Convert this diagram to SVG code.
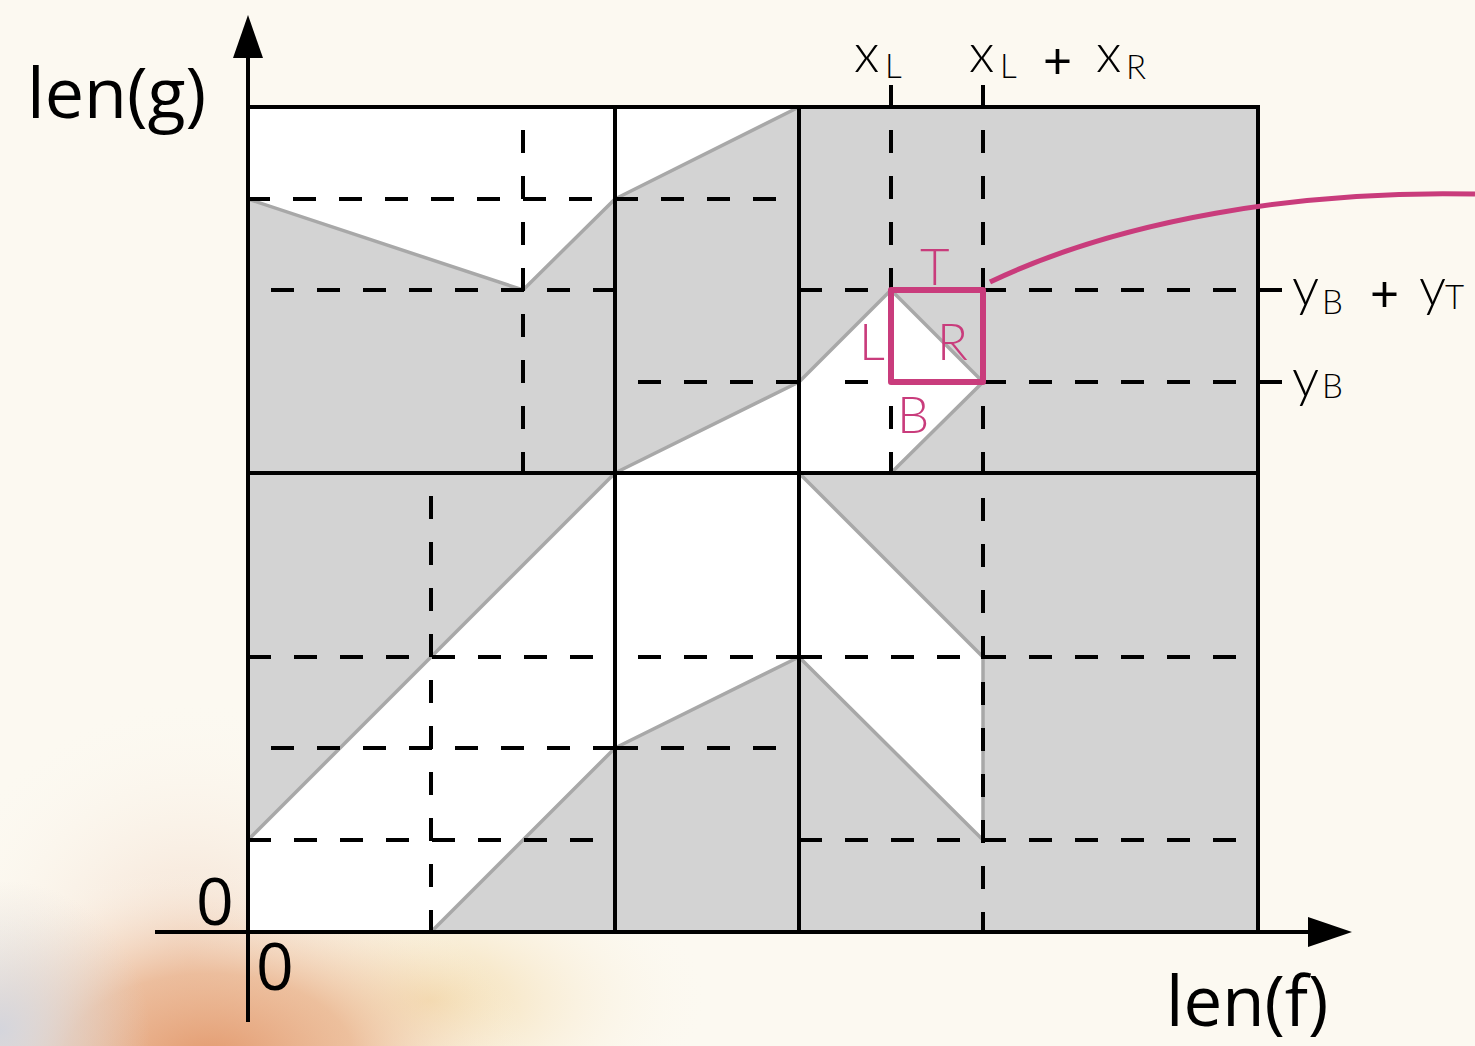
<svg xmlns="http://www.w3.org/2000/svg" width="1475" height="1046" viewBox="0 0 1475 1046">
  <defs>
    <radialGradient id="gOrange" cx="210" cy="1060" r="320" gradientUnits="userSpaceOnUse" gradientTransform="translate(210 1060) scale(1 0.6) translate(-210 -1060)">
      <stop offset="0" stop-color="#e39a6e" stop-opacity="1"/>
      <stop offset="0.45" stop-color="#e9b18b" stop-opacity="0.75"/>
      <stop offset="1" stop-color="#fcf9f1" stop-opacity="0"/>
    </radialGradient>
    <radialGradient id="gYellow" cx="430" cy="1000" r="280" gradientUnits="userSpaceOnUse" gradientTransform="translate(430 1000) scale(1 0.55) translate(-430 -1000)">
      <stop offset="0" stop-color="#f2d6a0" stop-opacity="0.9"/>
      <stop offset="1" stop-color="#fcf9f1" stop-opacity="0"/>
    </radialGradient>
    <radialGradient id="gGray" cx="0" cy="1030" r="150" gradientUnits="userSpaceOnUse">
      <stop offset="0" stop-color="#d4d5dc" stop-opacity="1"/>
      <stop offset="1" stop-color="#e0d8d4" stop-opacity="0"/>
    </radialGradient>
    <radialGradient id="gPeach" cx="190" cy="960" r="260" gradientUnits="userSpaceOnUse">
      <stop offset="0" stop-color="#efcdb7" stop-opacity="0.7"/>
      <stop offset="1" stop-color="#fcf9f1" stop-opacity="0"/>
    </radialGradient>
  </defs>
  <style>
    .solid { stroke: #000; stroke-width: 4; fill: none; }
    .dash { stroke: #000; stroke-width: 4; fill: none; stroke-dasharray: 23 23; }
    .bound { stroke: #a8a8a8; stroke-width: 3.5; fill: none; stroke-linejoin: round; }
    .axislabel { font-family: "Open Sans", "Noto Sans", sans-serif; font-size: 70px; fill: #000; }
    .zero { font-family: "Open Sans", "Noto Sans", sans-serif; font-size: 66px; fill: #000; }
    .var { font-family: Lato, "Noto Sans", sans-serif; font-weight: 300; font-size: 54px; fill: #000; }
    .sub { font-family: Lato, "Noto Sans", sans-serif; font-weight: 300; font-size: 33px; fill: #000; }
    .plus { font-family: Lato, "Noto Sans", sans-serif; font-weight: 400; font-size: 50px; fill: #000; }
    .pink { font-family: Lato, "Noto Sans", sans-serif; font-weight: 300; font-size: 51px; fill: #c93c7c; }
  </style>

  <g id="background">
    <rect x="0" y="0" width="1475" height="1046" fill="#fcf9f1"/>
    <rect x="0" y="680" width="900" height="366" fill="url(#gPeach)"/>
    <rect x="0" y="680" width="900" height="366" fill="url(#gYellow)"/>
    <rect x="0" y="680" width="900" height="366" fill="url(#gOrange)"/>
    <rect x="0" y="860" width="220" height="186" fill="url(#gGray)"/>
  </g>

  <g id="regions">
    <rect x="248" y="107" width="1010" height="825" fill="#d3d3d3"/>
    <polygon fill="#ffffff" points="248,107 799,107 615,199 523,290 248,199"/>
    <polygon fill="#ffffff" points="248,932 248,840 615,473 799,382 891,290 983,382 891,473 799,473 983,657 983,840 799,657 615,748 431,932"/>
  </g>

  <g id="boundaries">
    <polyline class="bound" points="248,199 523,290 615,199 799,107"/>
    <polyline class="bound" points="615,473 799,382 891,290 983,382 891,473"/>
    <polyline class="bound" points="248,840 615,473"/>
    <polyline class="bound" points="431,932 615,748 799,657 983,840"/>
    <polyline class="bound" points="799,473 983,657 983,840"/>
  </g>

  <g id="dashed-lines">
    <path class="dash" d="M247 199 H776"/>
    <path class="dash" d="M271 290 H616"/>
    <path class="dash" d="M799 290 H1236"/>
    <path class="dash" d="M638 382 H799"/>
    <path class="dash" d="M845 382 H1236"/>
    <path class="dash" d="M248 657 H594"/>
    <path class="dash" d="M638 657 H799"/>
    <path class="dash" d="M799 657 H1236"/>
    <path class="dash" d="M271 748 H616"/>
    <path class="dash" d="M615 748 H776"/>
    <path class="dash" d="M248 840 H594"/>
    <path class="dash" d="M799 840 H1236"/>
    <path class="dash" d="M523 130 V473"/>
    <path class="dash" d="M431 496 V932"/>
    <path class="dash" d="M891 130 V473"/>
    <path class="dash" d="M983 130 V932"/>
  </g>

  <g id="grid">
    <path class="solid" d="M248 107 H1258 V932"/>
    <path class="solid" d="M248 473 H1258"/>
    <path class="solid" d="M615 107 V932"/>
    <path class="solid" d="M799 107 V932"/>
    <path class="solid" d="M891 85 V107 M983 85 V107"/>
    <path class="solid" d="M1258 290 H1282 M1258 382 H1282"/>
  </g>

  <g id="axes">
    <path class="solid" d="M248 1022 V50"/>
    <path class="solid" d="M155 932 H1315"/>
    <polygon points="248,15 233,58 263,58" fill="#000"/>
    <polygon points="1352,932 1308,917 1308,947" fill="#000"/>
  </g>

  <g id="highlight">
    <rect x="891" y="290" width="92" height="92" fill="none" stroke="#c93c7c" stroke-width="6" stroke-linejoin="round"/>
    <path d="M990 282 C1120 220 1300 190 1475 194" fill="none" stroke="#c93c7c" stroke-width="5"/>
    <text class="pink" x="920" y="285">T</text>
    <text class="pink" x="859" y="360">L</text>
    <text class="pink" x="937" y="360">R</text>
    <text class="pink" x="897" y="433">B</text>
  </g>

  <g id="labels">
    <text class="axislabel" x="27" y="118">len(g)</text>
    <text class="axislabel" x="1166" y="1026" style="font-size:69px">len(f)</text>
    <text class="zero" x="196" y="925">0</text>
    <text class="zero" x="256" y="990">0</text>
    <text class="var" x="854" y="72">x</text>
    <text class="sub" x="885" y="78">L</text>
    <text class="var" x="969" y="72">x</text>
    <text class="sub" x="1000" y="78">L</text>
    <text class="plus" x="1043" y="78">+</text>
    <text class="var" x="1096" y="72">x</text>
    <text class="sub" x="1126" y="79">R</text>
    <text class="var" x="1292" y="306">y</text>
    <text class="sub" x="1322" y="314">B</text>
    <text class="plus" x="1370" y="311">+</text>
    <text class="var" x="1419" y="306">y</text>
    <text class="sub" x="1445" y="309">T</text>
    <text class="var" x="1292" y="397">y</text>
    <text class="sub" x="1322" y="398">B</text>
  </g>
</svg>
